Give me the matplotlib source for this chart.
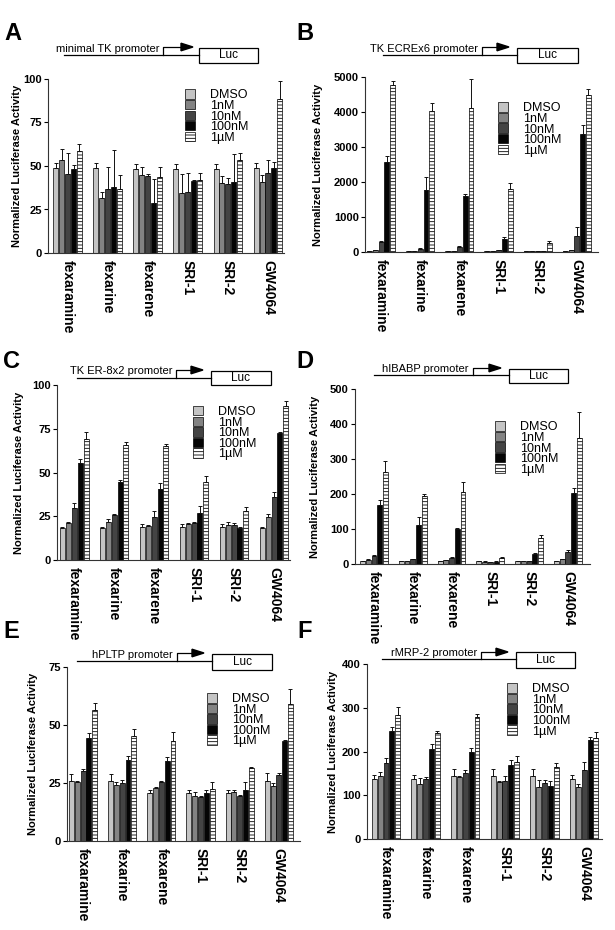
import numpy as np
import matplotlib
matplotlib.use('Agg')
import matplotlib.pyplot as plt
from matplotlib.lines import Line2D
from matplotlib.patches import Rectangle, Polygon

plt.rcParams['font.family'] = ['Liberation Sans', 'DejaVu Sans']
plt.rcParams['hatch.linewidth'] = 0.6

# --- Datos ---
compounds = ['fexaramine', 'fexarine', 'fexarene', 'SRI-1', 'SRI-2', 'GW4064']
doses = ['DMSO', '1nM', '10nM', '100nM', '1\u00b5M']

# filas = compuesto, columnas = dosis
mean_A = [[48.8, 53.2, 45.3, 48.2, 58.9],
          [48.8, 31.5, 36.9, 38.2, 36.9],
          [48.2, 45.0, 44.4, 28.7, 43.6],
          [48.2, 34.4, 34.8, 41.5, 41.7],
          [48.2, 40.2, 39.8, 40.7, 53.5],
          [48.8, 40.8, 45.9, 49.1, 88.5]]
err_A = [[2.9, 6.5, 12.4, 2.5, 3.8],
         [3.2, 3.3, 12.4, 21.0, 8.0],
         [2.9, 4.2, 1.0, 14.0, 6.1],
         [2.9, 10.9, 11.1, 0.6, 4.2],
         [2.9, 4.2, 3.3, 16.0, 3.8],
         [3.2, 4.2, 7.6, 3.4, 10.5]]

mean_B = [[25, 45, 287, 2580, 4760],
          [20, 25, 95, 1770, 4015],
          [20, 25, 143, 1606, 4110],
          [15, 15, 45, 382, 1790],
          [15, 15, 15, 30, 268],
          [20, 50, 460, 3365, 4475]]
err_B = [[5, 5, 20, 170, 130],
         [5, 5, 10, 360, 240],
         [5, 5, 15, 60, 840],
         [5, 5, 5, 50, 170],
         [5, 5, 5, 10, 40],
         [5, 10, 240, 270, 180]]

mean_C = [[18.1, 21.0, 29.5, 55.6, 69.0],
          [18.1, 21.9, 25.7, 44.4, 65.7],
          [19.0, 19.2, 24.8, 40.4, 65.3],
          [19.0, 20.6, 21.3, 26.7, 44.4],
          [19.0, 20.0, 19.8, 18.5, 28.2],
          [18.1, 24.4, 35.8, 72.4, 88.0]]
err_C = [[1.0, 1.0, 3.0, 2.0, 4.0],
         [1.0, 1.5, 0.5, 1.5, 1.5],
         [1.5, 1.0, 3.0, 3.5, 1.0],
         [1.5, 0.5, 0.5, 4.0, 3.5],
         [1.5, 1.5, 1.5, 0.5, 2.0],
         [1.0, 2.0, 3.0, 0.5, 3.0]]

mean_D = [[8.6, 12.4, 23.9, 169, 262],
          [8.0, 8.0, 13.4, 111, 193],
          [8.0, 11.5, 17.0, 99, 205],
          [8.0, 7.0, 6.0, 7.0, 17.0],
          [8.0, 8.5, 8.0, 28.6, 75],
          [8.6, 13.4, 33.0, 204, 360]]
err_D = [[1, 1, 2, 13, 32],
         [1, 1, 1, 22, 7],
         [1, 1, 2, 4, 30],
         [1, 1, 1, 1, 2],
         [1, 1, 1, 4, 7],
         [1, 2, 7, 14, 75]]

mean_E = [[25.7, 25.5, 30.0, 44.5, 56.5],
          [25.7, 24.0, 25.0, 34.7, 45.2],
          [20.5, 22.8, 25.5, 34.6, 43.3],
          [20.5, 19.5, 18.8, 20.5, 22.4],
          [20.5, 21.0, 19.5, 22.0, 31.4],
          [25.7, 23.8, 28.3, 43.1, 59.0]]
err_E = [[3.0, 0.5, 1.0, 2.0, 3.0],
         [3.0, 1.5, 1.5, 2.0, 3.0],
         [1.5, 0.5, 0.5, 1.5, 3.5],
         [1.5, 1.5, 0.5, 1.5, 3.0],
         [1.5, 1.0, 0.5, 3.5, 0.5],
         [3.5, 1.0, 1.0, 0.5, 6.5]]

mean_F = [[137, 143, 173, 248, 284],
          [137, 126, 138, 206, 242],
          [145, 141, 151, 200, 279],
          [145, 131, 133, 170, 177],
          [145, 120, 127, 122, 165],
          [137, 120, 157, 227, 231]]
err_F = [[10, 10, 12, 7, 18],
         [10, 13, 3, 12, 6],
         [15, 2, 6, 7, 6],
         [15, 2, 10, 10, 13],
         [15, 14, 8, 10, 9],
         [10, 6, 18, 7, 13]]

promoters = ['minimal TK promoter', 'TK ECREx6 promoter', 'TK ER-8x2 promoter',
             'hIBABP promoter', 'hPLTP promoter', 'rMRP-2 promoter']
yticks_A = [0, 25, 50, 75, 100]
yticks_B = [0, 1000, 2000, 3000, 4000, 5000]
yticks_C = [0, 25, 50, 75, 100]
yticks_D = [0, 100, 200, 300, 400, 500]
yticks_E = [0, 25, 50, 75]
yticks_F = [0, 100, 200, 300, 400]

# --- Estilo de las barras ---
bar_colors = ['#c4c4c4', '#838383', '#444444', '#050505', 'white']
bar_hatch = [None, None, None, None, '-----']

# --- Geometria de los paneles (pixeles de la imagen 615x930) ---
W, H = 615, 930
panels = [
    # letra, (x0, x1, ytop, ybot) de los ejes, xlim, offset ylabel, legend(x,y), letra(x,y)
    dict(letter='A', box=(48, 284, 79, 253), xlim=(-0.49, 5.40), ylab=-26,
         leg=(0.58, 0.94), lpos=(4, 33),
         prom=dict(line=(64, 199, 55), kink=163, up=47, tip=193, luc=(199, 258, 48, 63))),
    dict(letter='B', box=(365, 598, 77, 252), xlim=(-0.41, 5.54), ylab=-42,
         leg=(0.57, 0.855), lpos=(296, 33),
         prom=dict(line=(383, 517, 55), kink=482, up=47, tip=509, luc=(517, 578, 48, 63))),
    dict(letter='C', box=(57, 290, 385, 560), xlim=(-0.43, 5.40), ylab=-33,
         leg=(0.585, 0.88), lpos=(3, 362),
         prom=dict(line=(77, 211, 378), kink=176, up=370, tip=203, luc=(211, 271, 371, 385))),
    dict(letter='D', box=(355, 590, 389, 564), xlim=(-0.49, 5.57), ylab=-35,
         leg=(0.595, 0.815), lpos=(296, 362),
         prom=dict(line=(374, 509, 375), kink=473, up=368, tip=501, luc=(509, 568, 369, 383))),
    dict(letter='E', box=(67, 300, 667, 841), xlim=(-0.41, 5.54), ylab=-29,
         leg=(0.60, 0.85), lpos=(3, 632),
         prom=dict(line=(77, 212, 661), kink=177, up=653, tip=204, luc=(212, 272, 654, 670))),
    dict(letter='F', box=(367, 602, 664, 839), xlim=(-0.48, 5.45), ylab=-29,
         leg=(0.595, 0.89), lpos=(297, 632),
         prom=dict(line=(382, 516, 659), kink=481, up=652, tip=508, luc=(516, 575, 652, 668))),
]
means = [mean_A, mean_B, mean_C, mean_D, mean_E, mean_F]
errs = [err_A, err_B, err_C, err_D, err_E, err_F]
yticks_all = [yticks_A, yticks_B, yticks_C, yticks_D, yticks_E, yticks_F]


def fx(x):
    return x / W


def fy(y):
    return 1 - y / H


def draw_promoter(fig, text, p):
    """Dibuja el esquema promotor -> Luc encima del panel."""
    x0, x1, yl = p['line']
    lw = 0.9
    fig.add_artist(Line2D([fx(x0), fx(x1)], [fy(yl), fy(yl)], color='k', lw=lw))
    fig.add_artist(Line2D([fx(p['kink']), fx(p['kink']), fx(p['tip'] - 10)],
                          [fy(yl), fy(p['up']), fy(p['up'])], color='k', lw=lw))
    fig.add_artist(Polygon([(fx(p['tip'] - 12), fy(p['up'] - 3.8)),
                            (fx(p['tip']), fy(p['up'])),
                            (fx(p['tip'] - 12), fy(p['up'] + 3.8))],
                           closed=True, color='k', transform=fig.transFigure))
    bx0, bx1, by0, by1 = p['luc']
    fig.add_artist(Rectangle((fx(bx0), fy(by1)), fx(bx1) - fx(bx0), fy(by0) - fy(by1),
                             facecolor='white', edgecolor='k', lw=lw,
                             transform=fig.transFigure))
    fig.text(fx((bx0 + bx1) / 2), fy((by0 + by1) / 2), 'Luc', ha='center', va='center',
             fontsize=8.5)
    fig.text(fx(p['kink'] - 4), fy(yl - 1.5), text, ha='right', va='bottom', fontsize=8)


fig = plt.figure(figsize=(W / 100, H / 100), dpi=100)

x_groups = np.arange(len(compounds))
step = 0.148
width = 0.125

for i, pan in enumerate(panels):
    x0, x1, yt, yb = pan['box']
    ax = fig.add_axes([fx(x0), fy(yb), fx(x1) - fx(x0), fy(yt) - fy(yb)])
    m = np.array(means[i], dtype=float)
    e = np.array(errs[i], dtype=float)

    for j, dose in enumerate(doses):
        xs = x_groups + (j - 2) * step
        ax.bar(xs, m[:, j], width=width, color=bar_colors[j], edgecolor='k',
               linewidth=0.5, hatch=bar_hatch[j], label=dose, zorder=2)
        ax.errorbar(xs, m[:, j], yerr=[np.zeros(len(xs)), e[:, j]], fmt='none',
                    ecolor='#111111', elinewidth=0.7, capsize=1.2, capthick=0.7, zorder=3)

    yt_vals = yticks_all[i]
    ax.set_ylim(0, yt_vals[-1])
    ax.set_yticks(yt_vals)
    ax.set_xlim(*pan['xlim'])
    ax.set_xticks(x_groups)
    ax.set_xticklabels(compounds, rotation=-90, fontsize=10, fontweight='bold',
                       va='top', ha='center')
    ax.tick_params(axis='x', length=0, pad=5)
    ax.tick_params(axis='y', length=3, width=0.8, pad=1.5, labelsize=8)
    for lab in ax.get_yticklabels():
        lab.set_fontweight('bold')

    for s in ['top', 'right']:
        ax.spines[s].set_visible(False)
    for s in ['left', 'bottom']:
        ax.spines[s].set_linewidth(0.8)
        ax.spines[s].set_color('#333333')

    ax.set_ylabel('Normalized Luciferase Activity', fontsize=8, fontweight='bold')
    ax.yaxis.set_label_coords(pan['ylab'] / (x1 - x0), 0.5)

    leg = ax.legend(loc='upper left', bbox_to_anchor=pan['leg'], frameon=False,
                    fontsize=9, handlelength=0.8, handleheight=0.78,
                    labelspacing=-0.12, handletextpad=1.2, borderpad=0,
                    borderaxespad=0)

    draw_promoter(fig, promoters[i], pan['prom'])
    lx, ly = pan['lpos']
    fig.text(fx(lx), fy(ly), pan['letter'], fontsize=17, fontweight='bold',
             ha='left', va='center')

fig.savefig('out.png', dpi=100)
